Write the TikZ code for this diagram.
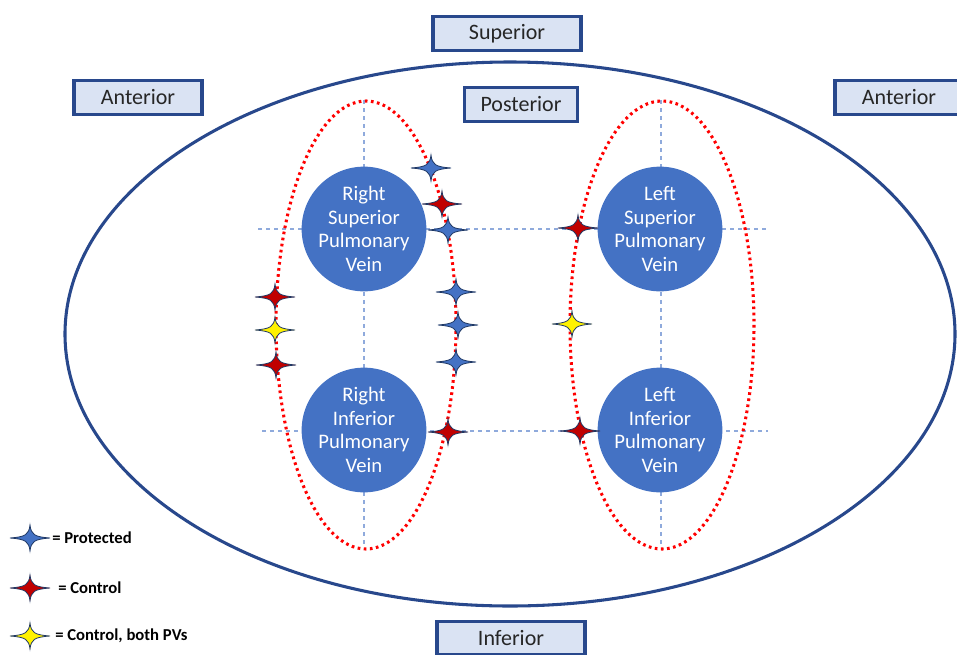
\documentclass[tikz,border=0pt]{standalone}
\usepackage{fontspec}
\setmainfont{Carlito}
\usepackage{tikz}

\definecolor{navy}{RGB}{40,72,140}
\definecolor{boxfill}{RGB}{218,227,243}
\definecolor{veinblue}{RGB}{68,114,196}
\definecolor{guideblue}{RGB}{143,170,220}
\definecolor{ctrlred}{RGB}{192,0,0}
\definecolor{staredge}{RGB}{31,56,100}

\begin{document}
\begin{tikzpicture}[x=0.75pt,y=0.75pt,yscale=-1,xscale=1,
  dirbox/.style={draw=navy,fill=boxfill,line width=2.3pt,minimum height=25pt,inner sep=0pt,text=black!85,font=\fontsize{16.5}{19}\selectfont},
  vein/.style={circle,fill=veinblue,minimum size=93pt,inner sep=0pt,text=white,align=center,font=\fontsize{15.5}{17.8}\selectfont},
  guide/.style={guideblue,dashed,line width=0.8pt},
  ring/.style={red,line width=2.3pt,dash pattern=on 2pt off 2.6pt},
  sparkle/.pic={\path [pic actions] (-20,0) .. controls (-4,-1.2) and (-1.2,-3.5) .. (0,-13)
      .. controls (1.2,-3.5) and (4,-1.2) .. (20,0) .. controls (4,1.2) and (1.2,3.5) .. (0,13)
      .. controls (-1.2,3.5) and (-4,1.2) .. (-20,0) -- cycle;},
  spark/.style={draw=staredge,line width=0.6pt},
  protected/.style={spark,fill=veinblue},
  control/.style={spark,fill=ctrlred},
  bothpv/.style={spark,fill=yellow},
  legend/.style={anchor=west,inner sep=0pt,font=\fontsize{12.5}{15}\selectfont\bfseries}]
\useasboundingbox (0,0) rectangle (957,654);

%Shape: Ellipse (outline)
\draw [navy,line width=2.3pt] (510,334) ellipse [x radius=445,y radius=272];

%Dashed guide lines
\draw [guide] (258,229) -- (767,229) ;
\draw [guide] (262,431) -- (768,431) ;
\draw [guide] (364,100) -- (364,546) ;
\draw [guide] (661,100) -- (661,546) ;

%Shape: Dotted rings
\draw [ring] (366,325) ellipse [x radius=90,y radius=224];
\draw [ring] (662,325) ellipse [x radius=92,y radius=224];

% Vein nodes
\node [vein] (rspv) at (364,229) {Right\\Superior\\Pulmonary\\Vein};
\node [vein] (ripv) at (364,430) {Right\\Inferior\\Pulmonary\\Vein};
\node [vein] (lspv) at (660,229) {Left\\Superior\\Pulmonary\\Vein};
\node [vein] (lipv) at (660,430) {Left\\Inferior\\Pulmonary\\Vein};

% Direction boxes
\node [dirbox,minimum width=111pt] (sup) at (507,33.5) {Superior};
\node [dirbox,minimum width=96pt] (antl) at (138,97.5) {Anterior};
\node [dirbox,minimum width=85pt] (post) at (521,104.5) {Posterior};
\node [dirbox,minimum width=96pt] (antr) at (899,97.5) {Anterior};
\node [dirbox,minimum width=111pt] (inf) at (511,638) {Inferior};

% Stars, right ring
\pic [protected] (s1) at (431,168) {sparkle};
\pic [control] (s2) at (442,204) {sparkle};
\pic [protected] (s3) at (448,230) {sparkle};
\pic [protected] (s4) at (456,292) {sparkle};
\pic [protected] (s5) at (458,325) {sparkle};
\pic [protected] (s6) at (456,362) {sparkle};
\pic [control] (s7) at (448,432) {sparkle};
\pic [control] (s8) at (275,297) {sparkle};
\pic [bothpv] (s9) at (275,330) {sparkle};
\pic [control] (s10) at (276,365) {sparkle};
% Stars, left ring
\pic [control] (s11) at (578,228) {sparkle};
\pic [bothpv] (s12) at (572,324) {sparkle};
\pic [control] (s13) at (580,431) {sparkle};

% Legend
\pic [protected] (k1) at (30,538) {sparkle};
\pic [control] (k2) at (30,588) {sparkle};
\pic [bothpv] (k3) at (30,636) {sparkle};
\node [legend] (t1) at (52,538) {= Protected};
\node [legend] (t2) at (58,588) {= Control};
\node [legend] (t3) at (55,636) {= Control, both PVs};

\end{tikzpicture}
\end{document}
